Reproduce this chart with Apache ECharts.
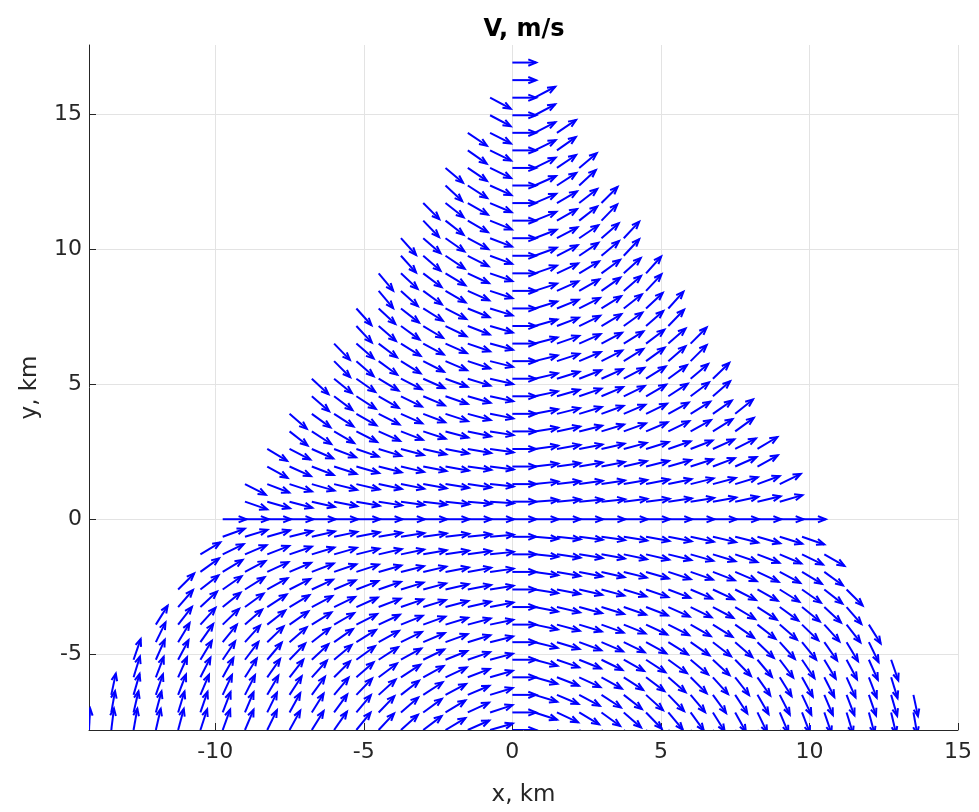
<!DOCTYPE html>
<html>
<head>
<meta charset="utf-8">
<script src="https://cdn.jsdelivr.net/npm/echarts@6/dist/echarts.min.js"></script>
<style>
  html, body { margin: 0; padding: 0; background: #ffffff; }
  #chart { width: 979px; height: 812px; }
</style>
</head>
<body>
<div id="chart"></div>
<script>
// ---- data ----
const gridX = [-14.25,-13.5,-12.75,-12,-11.25,-10.5,-9.75,-9,-8.25,-7.5,-6.75,-6,-5.25,-4.5,-3.75,-3,-2.25,-1.5,-0.75,0,
  0.75,1.5,2.25,3,3.75,4.5,5.25,6,6.75,7.5,8.25,9,9.75,10.5,11.25,12,12.75,13.5,14.25];
const gridY = [-7.8,-7.15,-6.5,-5.85,-5.2,-4.55,-3.9,-3.25,-2.6,-1.95,-1.3,-0.65,0,0.65,1.3,1.95,2.6,3.25,3.9,4.55,5.2,
  5.85,6.5,7.15,7.8,8.45,9.1,9.75,10.4,11.05,11.7,12.35,13,13.65,14.3,14.95,15.6,16.25,16.9];
// index (into gridX) of the first arrow of each row, bottom row first
const rowFirstCol = [0,1,1,2,2,3,3,4,4,5,5,6,6,7,7,8,8,9,9,10,10,11,11,12,12,13,13,14,14,15,15,16,16,17,17,18,18,19,19];

// arrow directions as seen on the picture, in degrees (0 = right, 90 = up), left to right
const lowerAngles = [
  [87,83,80,77,75,72,70,67,64,61,58,55,51,47,42,37,31,24,16,0,-16,-24,-31,-37,-42,-47,-51,-55,-58,-61,-64,-67,-70,-72,-75,-77,-80,-83,-87],
  [80,77,75,73,71,69,67,64,61,58,54,50,46,41,36,31,25,18,0,-18,-25,-31,-36,-41,-46,-50,-54,-58,-61,-64,-67,-69,-71,-73,-75,-77,-80],
  [78,74,71,69,67,65,63,60,57,54,50,46,42,38,33,28,23,17,0,-17,-23,-28,-33,-38,-42,-46,-50,-54,-57,-60,-63,-65,-67,-69,-71,-74,-78],
  [73,69,66,63,61,58,55,52,48,45,41,37,33,29,25,21,16,0,-16,-21,-25,-29,-33,-37,-41,-45,-48,-52,-55,-58,-61,-63,-66,-69,-73],
  [71,66,62,59,56,53,50,46,43,40,36,33,29,26,22,19,15,0,-15,-19,-22,-26,-29,-33,-36,-40,-43,-46,-50,-53,-56,-59,-62,-66,-71],
  [64,59,55,51,48,44,41,38,35,32,29,26,23,20,17,14,0,-14,-17,-20,-23,-26,-29,-32,-35,-38,-41,-44,-48,-51,-55,-59,-64],
  [58,52,48,44,41,38,35,32,30,27,25,22,20,17,15,12,0,-12,-15,-17,-20,-22,-25,-27,-30,-32,-35,-38,-41,-44,-48,-52,-58],
  [49,43,39,36,33,31,28,26,24,21,19,17,15,13,11,0,-11,-13,-15,-17,-19,-21,-24,-26,-28,-31,-33,-36,-39,-43,-49],
  [45,38,35,32,29,27,25,23,21,19,17,15,13,11,9,0,-9,-11,-13,-15,-17,-19,-21,-23,-25,-27,-29,-32,-35,-38,-45],
  [36,31,28,25,23,21,19,18,16,14,13,11,10,8,0,-8,-10,-11,-13,-14,-16,-18,-19,-21,-23,-25,-28,-31,-36],
  [31,26,23,21,19,17,16,14,13,12,10,9,8,6,0,-6,-8,-9,-10,-12,-13,-14,-16,-17,-19,-21,-23,-26,-30],
  [20,17,16,14,13,12,11,10,9,8,7,6,5,0,-5,-6,-7,-8,-9,-10,-11,-12,-13,-14,-16,-17,-19]
];
const centerAngles = [0,0,0,0,0,0,0,0,0,0,0,0,0,0,0,0,0,0,0,0,0,0,0,0,0,0,0];
const upperAngles = [
  [-19,-16,-15,-13,-11,-10,-9,-8,-7,-6,-5,-4,0,4,5,5,6,7,7,8,9,10,12,13,16],
  [-27,-21,-18,-16,-14,-13,-12,-11,-10,-9,-8,-6,0,6,7,8,9,10,11,12,14,15,17,20,26],
  [-29,-24,-21,-18,-16,-14,-13,-11,-10,-8,-7,0,7,8,10,11,13,14,16,18,21,24,29],
  [-31,-27,-24,-21,-19,-17,-15,-13,-11,-10,-8,0,8,10,11,13,15,17,19,21,24,27,31],
  [-38,-33,-30,-27,-24,-21,-18,-15,-12,-9,0,9,12,14,17,20,23,26,29,32,36],
  [-41,-36,-33,-30,-27,-24,-21,-18,-15,-11,0,11,14,17,20,23,26,29,32,35,39],
  [-41,-37,-33,-30,-26,-23,-19,-16,-12,0,12,16,19,23,26,30,33,37,41],
  [-43,-39,-35,-31,-27,-24,-20,-17,-13,0,13,17,21,24,28,32,36,40,44],
  [-45,-41,-36,-32,-27,-23,-18,-14,0,14,18,23,27,32,36,41,45],
  [-46,-41,-37,-32,-28,-24,-19,-15,0,15,19,24,28,32,37,41,45],
  [-47,-41,-36,-31,-26,-21,-16,0,16,21,26,31,36,41,46],
  [-48,-43,-38,-32,-27,-22,-17,0,17,22,27,32,38,43,48],
  [-50,-42,-36,-30,-24,-18,0,18,24,30,35,41,47],
  [-50,-43,-37,-31,-25,-19,0,19,25,31,36,42,48],
  [-48,-41,-34,-27,-20,0,20,27,34,40,47],
  [-48,-41,-35,-28,-21,0,21,28,34,41,47],
  [-46,-38,-30,-22,0,22,30,38,46],
  [-45,-38,-30,-23,0,23,30,38,45],
  [-43,-33,-24,0,24,33,43],
  [-40,-34,-26,0,26,34,40],
  [-35,-26,0,26,35],
  [-34,-27,0,27,34],
  [-28,0,28],
  [-28,0,28],
  [0],
  [0]
];
const xTicks = [-10,-5,0,5,10,15];
const yTicks = [-5,0,5,10,15];

// ---- build the arrow table ----
const allRows = lowerAngles.concat([centerAngles], upperAngles);
const arrowData = [];
allRows.forEach(function (row, r) {
  row.forEach(function (ang, i) {
    arrowData.push([gridX[rowFirstCol[r] + i], gridY[r], ang]);
  });
});

const FONT = "'DejaVu Sans', 'Liberation Sans', Arial, sans-serif";
const AXIS_COLOR = '#262626';
const ARROW_LEN = 0.8;   // arrow length in km (drawing size)
const ARROW_COLOR = '#0000ff';

const chart = echarts.init(document.getElementById('chart'), null, { renderer: 'canvas' });
chart.setOption({
  animation: false,
  backgroundColor: '#ffffff',
  title: {
    text: 'V, m/s',
    left: 519,
    top: 13,
    textAlign: 'center',
    textStyle: { fontFamily: FONT, fontSize: 24, fontWeight: 'bold', color: '#000000' }
  },
  grid: { left: 89, right: 21, top: 45, bottom: 82, containLabel: false },
  xAxis: {
    type: 'value',
    min: -14.25,
    max: 15,
    name: 'x, km',
    nameLocation: 'middle',
    nameGap: 54,
    nameTextStyle: { fontFamily: FONT, fontSize: 23, color: AXIS_COLOR },
    axisLine: { show: true, onZero: false, lineStyle: { color: AXIS_COLOR, width: 1 } },
    axisTick: { show: true, inside: true, length: 7, customValues: xTicks, lineStyle: { color: AXIS_COLOR, width: 1 } },
    axisLabel: { customValues: xTicks, fontFamily: FONT, fontSize: 22, color: AXIS_COLOR, margin: 11 },
    splitLine: { show: true, lineStyle: { color: '#e3e3e3', width: 1 } }
  },
  yAxis: {
    type: 'value',
    min: -7.8,
    max: 17.55,
    name: 'y, km',
    nameLocation: 'middle',
    nameGap: 47,
    nameTextStyle: { fontFamily: FONT, fontSize: 23, color: AXIS_COLOR },
    axisLine: { show: true, onZero: false, lineStyle: { color: AXIS_COLOR, width: 1 } },
    axisTick: { show: true, inside: true, length: 7, customValues: yTicks, lineStyle: { color: AXIS_COLOR, width: 1 } },
    axisLabel: { customValues: yTicks, fontFamily: FONT, fontSize: 22, color: AXIS_COLOR, margin: 7 },
    splitLine: { show: true, lineStyle: { color: '#e3e3e3', width: 1 } }
  },
  series: [{
    type: 'custom',
    coordinateSystem: 'cartesian2d',
    clip: true,
    data: arrowData,
    encode: { x: 0, y: 1 },
    renderItem: function (params, api) {
      const x = api.value(0), y = api.value(1), a = api.value(2) * Math.PI / 180;
      const p0 = api.coord([x, y]);
      const unit = api.size([ARROW_LEN, ARROW_LEN], [x, y]);
      const c = Math.cos(a), s = Math.sin(a);
      const lenPx = Math.sqrt(Math.pow(unit[0] * c, 2) + Math.pow(unit[1] * s, 2));
      const u = lenPx * c, v = -lenPx * s;
      const p1 = [p0[0] + u, p0[1] + v];
      const al = 0.33, be = 0.4;
      const h1 = [p1[0] - al * (u + be * v), p1[1] - al * (v - be * u)];
      const h2 = [p1[0] - al * (u - be * v), p1[1] - al * (v + be * u)];
      const st = { stroke: ARROW_COLOR, lineWidth: 2, fill: null, lineJoin: 'miter' };
      return {
        type: 'group',
        children: [
          { type: 'line', shape: { x1: p0[0], y1: p0[1], x2: p1[0], y2: p1[1] }, style: st },
          { type: 'polyline', shape: { points: [h1, p1, h2] }, style: st }
        ]
      };
    }
  }]
});
</script>
</body>
</html>
